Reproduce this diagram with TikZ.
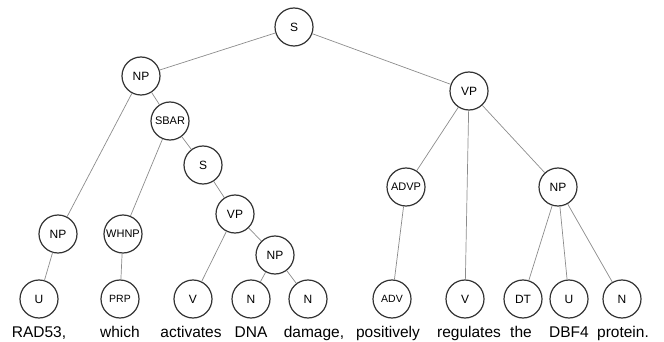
\documentclass[tikz,border=0pt]{standalone}
\usepackage{fontspec}
\setmainfont{Liberation Sans}
\usetikzlibrary{positioning}
\tikzset{x=1pt, y=-1pt, % one unit = one pixel of the layout, y pointing down
      every node/.style={font=\fontsize{12}{14}\selectfont},
      tag/.style={ % Sets the properties for each constituent circle
      circle, draw=black!80, line width=1.2pt,
      minimum size=38pt, inner sep=0pt, fill=white},
      smalltag/.style={tag, font=\fontsize{10.5}{12}\selectfont}, % longer labels
      word/.style={anchor=base, font=\fontsize{15.5}{18}\selectfont},
      every edge/.style={ % Sets the properties for each branch
            draw, black!45,
      line width=0.7pt}}

\begin{document}
\begin{tikzpicture}
      \useasboundingbox (0,0) rectangle (664,342);
      % phrase nodes
      \node[tag] (s) at (294,27) {S};
      \node[tag] (np1) at (141,76) {NP};
      \node[tag] (vp1) at (469,91) {VP};
      \node[smalltag, font=\fontsize{11}{12}\selectfont] (sbar) at (170,121) {SBAR};
      \node[tag] (s2) at (203,165) {S};
      \node[tag] (vp2) at (235,214) {VP};
      \node[tag] (np2) at (58,234) {NP};
      \node[smalltag, font=\fontsize{11}{12}\selectfont] (whnp) at (123,234) {WHNP};
      \node[tag] (np3) at (275,255) {NP};
      \node[smalltag, font=\fontsize{11}{12}\selectfont] (advp) at (406,187) {ADVP};
      \node[tag] (np4) at (558,187) {NP};
      % part-of-speech nodes
      \node[tag] (u1) at (39,299) {U};
      \node[smalltag] (prp) at (120,299) {PRP};
      \node[tag] (v1) at (193,299) {V};
      \node[tag] (n1) at (251,299) {N};
      \node[tag] (n2) at (308,299) {N};
      \node[smalltag] (adv) at (392,299) {ADV};
      \node[tag] (v2) at (465,299) {V};
      \node[tag] (dt) at (523,299) {DT};
      \node[tag] (u2) at (569,299) {U};
      \node[tag] (n3) at (622,299) {N};
      % words
      \node[word] (w1) at (39,337) {RAD53,};
      \node[word] (w2) at (120,337) {which};
      \node[word] (w3) at (191,337) {activates};
      \node[word] (w4) at (251,337) {DNA};
      \node[word] (w5) at (314,337) {damage,};
      \node[word] (w6) at (388,337) {positively};
      \node[word] (w7) at (469,337) {regulates};
      \node[word] (w8) at (521,337) {the};
      \node[word] (w9) at (569,337) {DBF4};
      \node[word] (w10) at (623,337) {protein.};
      % branches
      \draw (s) edge (np1) (s) edge (vp1);
      \draw (np1) edge (np2) (np1) edge (sbar);
      \draw (sbar) edge (whnp) (sbar) edge (s2);
      \draw (s2) edge (vp2);
      \draw (vp2) edge (v1) (vp2) edge (np3);
      \draw (np3) edge (n1) (np3) edge (n2);
      \draw (np2) edge (u1);
      \draw (whnp) edge (prp);
      \draw (vp1) edge (advp) (vp1) edge (v2) (vp1) edge (np4);
      \draw (advp) edge (adv);
      \draw (np4) edge (dt) (np4) edge (u2) (np4) edge (n3);
    \end{tikzpicture}
\end{document}
